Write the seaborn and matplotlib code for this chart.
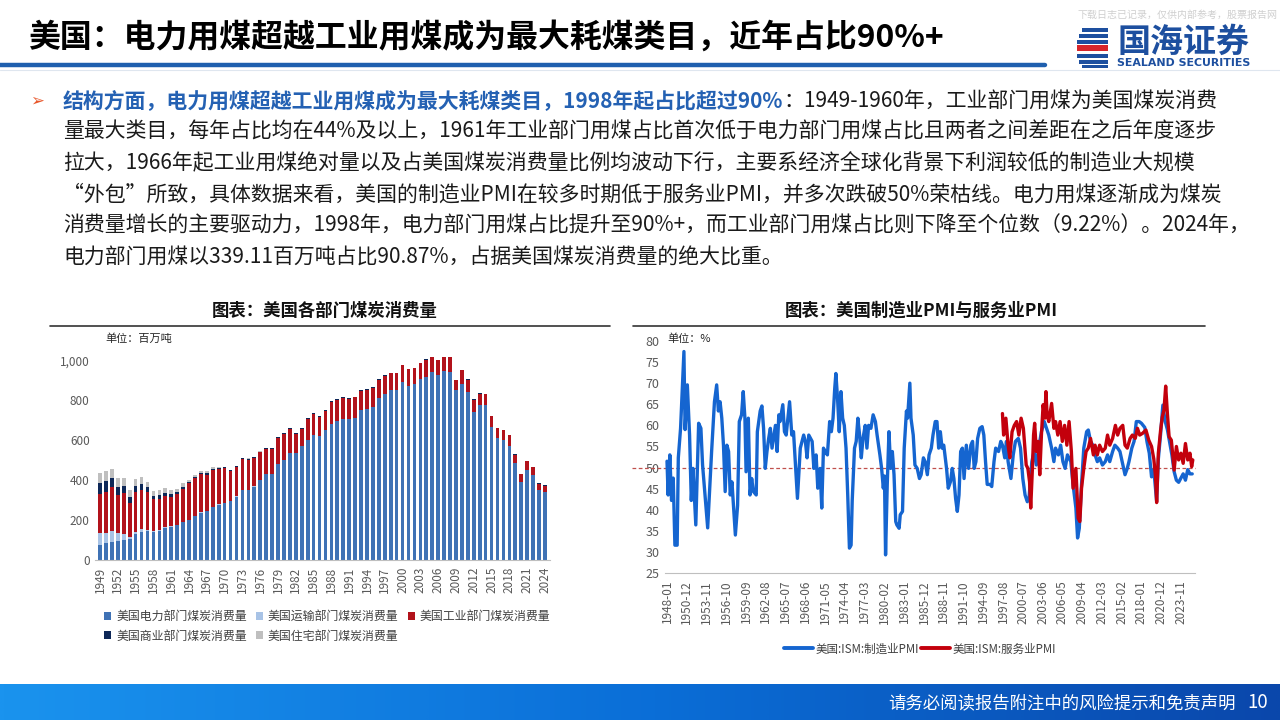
import numpy as np
import pandas as pd
import matplotlib
matplotlib.use("Agg")
import matplotlib.pyplot as plt
import matplotlib.dates as mdates
from matplotlib.patches import Rectangle, Patch
from matplotlib.lines import Line2D
from matplotlib.colors import LinearSegmentedColormap
import seaborn as sns

# ---------------- data: coal consumption by sector (million tonnes) ----------------
years = list(range(1949, 2025))

electric = [75, 84, 92, 97, 100, 107, 129, 141, 147, 141,
            147, 162, 167, 176, 191, 201, 222, 238, 246, 264,
            278, 284, 294, 318, 351, 351, 368, 402, 432, 432,
            480, 502, 535, 535, 569, 602, 627, 619, 649, 683,
            696, 706, 706, 714, 753, 756, 766, 813, 833, 850,
            853, 893, 873, 882, 907, 917, 940, 927, 945, 942,
            850, 883, 843, 743, 776, 775, 666, 611, 602, 572,
            485, 393, 452, 427, 351, 339]
transport = [62, 53, 54, 37, 30, 10, 12, 13, 4, 3,
             2, 2, 1, 1, 1, 1, 1, 1, 0.5, 0.5,
             0.5, 0.5, 0.5, 0.5, 0.5, 0.5, 0.5, 0.5, 0, 0,
             0, 0, 0, 0, 0, 0, 0, 0, 0, 0,
             0, 0, 0, 0, 0, 0, 0, 0, 0, 0,
             0, 0, 0, 0, 0, 0, 0, 0, 0, 0,
             0, 0, 0, 0, 0, 0, 0, 0, 0, 0,
             0, 0, 0, 0, 0, 0]
industrial = [194, 203, 222, 192, 208, 171, 199, 197, 190, 164,
              157, 159, 150, 154, 166, 183, 187, 193, 179, 188,
              177, 176, 151, 147, 154, 151, 141, 137, 125, 125,
              131, 129, 121, 96, 89, 107, 104, 99, 99, 110,
              107, 105, 102, 101, 95, 97, 97, 90, 90, 85,
              83, 83, 83, 78, 79, 86, 76, 73, 71, 74,
              50, 68, 61, 60, 58, 55, 54, 48, 48, 53,
              43, 37, 43, 39, 32, 34]
commercial = [57, 58, 45, 42, 35, 30, 33, 30, 25, 15,
              19, 15, 13, 10, 10, 6, 8, 6, 10, 6,
              7, 5, 5, 5, 5, 5, 5, 4, 4, 4,
              4, 4, 4, 4, 4, 4, 4, 4, 4, 4,
              4, 4, 3, 3, 3, 3, 3, 3, 3, 3,
              3, 3, 3, 3, 3, 3, 3, 3, 3, 3,
              2, 2, 2, 2, 2, 2, 2, 2, 2, 2,
              2, 1, 1, 1, 1, 1]
residential = [47, 50, 45, 45, 40, 33, 32, 36, 25, 23,
               26, 23, 20, 17, 20, 10, 10, 10, 10, 7,
               3, 2, 2, 2, 2, 2, 2, 1, 1, 1,
               1, 1, 1, 1, 1, 1, 1, 1, 1, 1,
               1, 1, 0.5, 0.5, 0.5, 0.5, 0.5, 0.5, 0.5, 0.5,
               0.5, 0.5, 0.5, 0.5, 0.5, 0.5, 0.5, 0.5, 0.5, 0.5,
               0.2, 0.2, 0.2, 0.2, 0.2, 0.2, 0.2, 0.2, 0.2, 0.2,
               0.2, 0.2, 0.2, 0.2, 0.2, 0.2]
sector_names = ["美国电力部门煤炭消费量", "美国运输部门煤炭消费量", "美国工业部门煤炭消费量",
                "美国商业部门煤炭消费量", "美国住宅部门煤炭消费量"]
coal_ticks = [0, 200, 400, 600, 800, 1000]
coal_tick_labels = ["0", "200", "400", "600", "800", "1,000"]

# ---------------- data: ISM PMI (%) ----------------
mfg_pmi = [("1948-01", 51.5), ("1948-03", 43.5), ("1948-06", 53.0), ("1948-09", 42.2), ("1948-12", 47.5),
           ("1949-03", 31.6), ("1949-07", 31.6), ("1949-09", 52.3), ("1950-01", 59.3), ("1950-07", 77.5),
           ("1950-09", 59.0), ("1951-01", 69.6), ("1951-05", 57.7), ("1951-08", 42.2), ("1951-11", 49.8),
           ("1952-04", 36.4), ("1952-09", 60.5), ("1953-01", 59.3), ("1953-04", 50.6), ("1954-01", 35.7),
           ("1954-08", 53.8), ("1955-01", 65.6), ("1955-05", 69.6), ("1955-08", 63.4), ("1955-11", 65.6),
           ("1956-02", 61.7), ("1956-05", 55.3), ("1956-08", 44.3), ("1956-11", 55.3), ("1957-02", 53.8),
           ("1957-05", 43.5), ("1957-08", 46.6), ("1958-02", 34.0), ("1958-06", 41.0), ("1958-09", 60.9),
           ("1959-01", 62.5), ("1959-04", 68.0), ("1959-07", 61.7), ("1959-09", 49.0), ("1960-01", 61.7),
           ("1960-04", 43.5), ("1960-07", 47.4), ("1960-10", 44.3), ("1961-03", 43.5), ("1961-05", 58.5),
           ("1961-10", 63.4), ("1962-01", 64.6), ("1962-04", 59.3), ("1962-07", 49.8), ("1962-10", 53.8),
           ("1963-01", 56.9), ("1963-04", 59.3), ("1963-07", 54.6), ("1964-01", 60.0), ("1964-04", 53.8),
           ("1964-07", 62.5), ("1964-09", 60.9), ("1965-02", 64.9), ("1965-05", 58.5), ("1965-08", 57.7),
           ("1966-02", 65.6), ("1966-06", 57.7), ("1966-09", 58.5), ("1967-04", 42.7), ("1967-09", 54.6),
           ("1968-03", 57.7), ("1968-06", 56.2), ("1968-09", 52.3), ("1968-12", 57.7), ("1969-06", 56.2),
           ("1969-09", 49.8), ("1970-01", 53.0), ("1970-04", 45.1), ("1970-08", 49.8), ("1970-11", 40.4),
           ("1971-02", 54.6), ("1971-05", 53.8), ("1971-09", 53.0), ("1972-01", 60.9), ("1972-04", 58.5),
           ("1972-07", 61.7), ("1972-10", 68.8), ("1972-12", 72.3), ("1973-03", 66.4), ("1973-06", 58.5),
           ("1973-09", 68.0), ("1973-12", 61.7), ("1974-03", 60.0), ("1974-06", 54.6), ("1974-09", 43.5),
           ("1974-12", 30.9), ("1975-03", 31.6), ("1975-05", 42.2), ("1975-09", 54.6), ("1975-12", 56.2),
           ("1976-03", 61.7), ("1976-06", 57.7), ("1976-09", 52.3), ("1976-12", 56.9), ("1977-04", 60.0),
           ("1977-07", 54.6), ("1977-10", 60.0), ("1978-02", 59.3), ("1978-06", 62.5), ("1978-10", 60.9),
           ("1979-01", 57.7), ("1979-06", 53.0), ("1979-09", 49.8), ("1979-12", 45.1), ("1980-02", 48.0),
           ("1980-04", 29.3), ("1980-07", 46.0), ("1980-10", 58.5), ("1981-01", 49.8), ("1981-04", 53.8),
           ("1981-07", 48.3), ("1981-10", 37.2), ("1981-12", 36.4), ("1982-04", 35.6), ("1982-06", 38.8),
           ("1982-10", 39.6), ("1983-01", 54.6), ("1983-05", 63.4), ("1983-07", 61.7), ("1983-11", 70.0),
           ("1984-01", 61.7), ("1984-05", 57.7), ("1984-08", 50.6), ("1984-12", 49.8), ("1985-04", 47.4),
           ("1985-07", 48.3), ("1985-11", 52.3), ("1986-02", 51.4), ("1986-06", 48.3), ("1986-09", 53.0),
           ("1987-01", 54.6), ("1987-04", 57.7), ("1987-08", 60.9), ("1987-11", 60.9), ("1988-02", 54.6),
           ("1988-05", 58.5), ("1988-08", 54.6), ("1988-11", 55.3), ("1989-04", 49.8), ("1989-07", 45.1),
           ("1989-11", 46.7), ("1990-02", 49.8), ("1990-05", 47.4), ("1990-08", 42.7), ("1990-11", 39.6),
           ("1991-02", 43.5), ("1991-05", 53.8), ("1991-08", 54.6), ("1991-11", 47.4), ("1992-03", 55.3),
           ("1992-07", 49.8), ("1992-11", 55.3), ("1993-02", 56.2), ("1993-05", 49.8), ("1993-08", 51.4),
           ("1993-11", 56.9), ("1994-03", 59.3), ("1994-07", 59.7), ("1994-10", 57.7), ("1995-01", 51.4),
           ("1995-04", 46.0), ("1995-09", 46.0), ("1995-12", 45.5), ("1996-04", 51.4), ("1996-07", 54.6),
           ("1996-12", 53.8), ("1997-04", 56.2), ("1997-07", 55.3), ("1997-11", 52.3), ("1998-02", 56.2),
           ("1998-05", 51.4), ("1998-10", 47.4), ("1999-02", 53.0), ("1999-06", 56.2), ("1999-11", 56.9),
           ("2000-03", 54.6), ("2000-07", 47.4), ("2000-11", 43.5), ("2001-03", 41.9), ("2001-06", 42.7),
           ("2001-11", 51.4), ("2002-03", 53.8), ("2002-07", 50.6), ("2002-12", 55.3), ("2003-04", 58.5),
           ("2003-09", 60.9), ("2004-01", 59.3), ("2004-05", 57.7), ("2004-10", 54.6), ("2005-02", 51.4),
           ("2005-05", 54.6), ("2005-10", 53.0), ("2006-02", 55.3), ("2006-06", 51.4), ("2006-10", 49.8),
           ("2007-02", 53.0), ("2007-08", 51.4), ("2007-12", 46.0), ("2008-05", 40.4), ("2008-08", 33.3),
           ("2008-11", 35.6), ("2009-03", 46.0), ("2009-07", 54.6), ("2009-12", 58.5), ("2010-03", 58.9),
           ("2010-07", 56.2), ("2010-11", 55.3), ("2011-03", 53.0), ("2011-07", 51.4), ("2011-11", 52.3),
           ("2012-04", 50.6), ("2012-09", 51.4), ("2013-01", 53.0), ("2013-05", 51.4), ("2013-10", 53.8),
           ("2014-02", 55.3), ("2014-07", 54.6), ("2014-11", 53.8), ("2015-03", 51.4), ("2015-08", 48.3),
           ("2015-12", 49.8), ("2016-03", 51.4), ("2016-08", 54.6), ("2016-12", 56.2), ("2017-04", 60.9),
           ("2017-09", 60.9), ("2018-01", 60.5), ("2018-07", 59.5), ("2018-11", 56.0), ("2019-03", 53.4),
           ("2019-07", 47.8), ("2019-11", 49.4), ("2020-04", 42.0), ("2020-07", 52.0), ("2020-11", 58.0),
           ("2021-03", 64.8), ("2021-07", 61.0), ("2021-11", 59.0), ("2022-03", 56.0), ("2022-07", 53.0),
           ("2022-11", 49.0), ("2023-03", 47.0), ("2023-07", 46.5), ("2023-11", 47.5), ("2024-03", 48.5),
           ("2024-07", 47.0), ("2024-11", 49.5), ("2025-03", 48.5), ("2025-07", 48.5)]

svc_pmi = [("1997-07", 62.8), ("1997-09", 57.7), ("1998-01", 61.7), ("1998-05", 55.3), ("1998-08", 52.3),
           ("1998-12", 58.5), ("1999-04", 60.0), ("1999-08", 60.9), ("1999-12", 57.7), ("2000-04", 61.7),
           ("2000-08", 59.3), ("2001-01", 50.6), ("2001-04", 49.8), ("2001-07", 46.6), ("2001-09", 40.4),
           ("2001-12", 49.8), ("2002-02", 57.7), ("2002-04", 60.5), ("2002-07", 53.8), ("2002-10", 56.2),
           ("2003-01", 48.3), ("2003-04", 57.7), ("2003-07", 64.9), ("2003-10", 61.7), ("2003-12", 68.0),
           ("2004-02", 62.5), ("2004-05", 60.9), ("2004-10", 65.2), ("2005-02", 59.3), ("2005-05", 60.9),
           ("2005-09", 57.7), ("2006-01", 60.9), ("2006-05", 56.2), ("2006-09", 60.0), ("2007-01", 55.3),
           ("2007-05", 60.9), ("2007-09", 53.8), ("2007-12", 45.1), ("2008-05", 49.8), ("2008-09", 38.0),
           ("2008-12", 37.2), ("2009-03", 45.1), ("2009-07", 49.8), ("2009-11", 53.8), ("2010-03", 54.6),
           ("2010-07", 56.9), ("2010-12", 53.0), ("2011-03", 55.3), ("2011-07", 53.0), ("2011-11", 55.3),
           ("2012-04", 53.8), ("2012-09", 54.6), ("2013-01", 57.7), ("2013-05", 55.3), ("2013-10", 56.9),
           ("2014-03", 60.0), ("2014-07", 57.7), ("2014-11", 59.3), ("2015-04", 60.0), ("2015-08", 55.3),
           ("2015-12", 54.6), ("2016-05", 56.9), ("2016-09", 57.7), ("2017-02", 56.9), ("2017-06", 59.3),
           ("2017-10", 57.7), ("2018-03", 58.1), ("2018-09", 58.9), ("2019-02", 56.5), ("2019-07", 55.0),
           ("2019-11", 52.0), ("2020-02", 47.8), ("2020-04", 41.7), ("2020-07", 53.4), ("2020-11", 58.9),
           ("2021-02", 62.0), ("2021-05", 63.6), ("2021-08", 69.3), ("2021-11", 62.8), ("2022-02", 57.3),
           ("2022-06", 56.5), ("2022-11", 49.4), ("2023-03", 55.0), ("2023-07", 51.8), ("2023-11", 53.4),
           ("2024-03", 51.0), ("2024-07", 55.7), ("2024-11", 51.8), ("2025-03", 53.4), ("2025-06", 50.2),
           ("2025-08", 51.8)]

pmi_tick_labels = ["1948-01", "1950-12", "1953-11", "1956-10", "1959-09", "1962-08", "1965-07",
                   "1968-06", "1971-05", "1974-04", "1977-03", "1980-02", "1983-01", "1985-12",
                   "1988-11", "1991-10", "1994-09", "1997-08", "2000-07", "2003-06", "2006-05",
                   "2009-04", "2012-03", "2015-02", "2018-01", "2020-12", "2023-11"]
pmi_yticks = [25, 30, 35, 40, 45, 50, 55, 60, 65, 70, 75, 80]
pmi_names = ["美国:ISM:制造业PMI", "美国:ISM:服务业PMI"]

# ---------------- texts ----------------
title = "美国：电力用煤超越工业用煤成为最大耗煤类目，近年占比90%+"
body_lead = "结构方面，电力用煤超越工业用煤成为最大耗煤类目，1998年起占比超过90%"
body_lines = [
    "：1949-1960年，工业部门用煤为美国煤炭消费",
    "量最大类目，每年占比均在44%及以上，1961年工业部门用煤占比首次低于电力部门用煤占比且两者之间差距在之后年度逐步",
    "拉大，1966年起工业用煤绝对量以及占美国煤炭消费量比例均波动下行，主要系经济全球化背景下利润较低的制造业大规模",
    "“外包”所致，具体数据来看，美国的制造业PMI在较多时期低于服务业PMI，并多次跌破50%荣枯线。电力用煤逐渐成为煤炭",
    "消费量增长的主要驱动力，1998年，电力部门用煤占比提升至90%+，而工业部门用煤占比则下降至个位数（9.22%）。2024年，",
    "电力部门用煤以339.11百万吨占比90.87%，占据美国煤炭消费量的绝大比重。",
]

# ---------------- style ----------------
sns.set_theme(style="white")
plt.rcParams['font.family'] = ['Noto Sans CJK SC', 'DejaVu Sans']
plt.rcParams['axes.unicode_minus'] = False

W, H = 1280, 720
fig = plt.figure(figsize=(12.8, 7.2), dpi=100, facecolor="white")


def fx(x):
    return x / W


def fy(y):
    return 1 - y / H


def add_axes_px(x0, y0, x1, y1, **kw):
    return fig.add_axes([fx(x0), fy(y1), (x1 - x0) / W, (y1 - y0) / H], **kw)


GRAY_TXT = "#595959"
C_ELEC, C_TRANS, C_IND, C_COM, C_RES = "#3f72b5", "#a8c3e6", "#b2121b", "#0d2757", "#bfbfbf"
C_MFG, C_SVC = "#1565d0", "#c3000c"

# ---------------- left chart: stacked bars ----------------
axL = add_axes_px(95.3, 340.5, 549.7, 560)
el = np.array(electric, float)
tr = np.array(transport, float)
ind = np.array(industrial, float)
com = np.array(commercial, float)
res = np.array(residential, float)
layers = [(el + tr + ind + com + res, C_RES), (el + tr + ind + com, C_COM),
          (el + tr + ind, C_IND), (el + tr, C_TRANS), (el, C_ELEC)]
for heights, col in layers:
    sns.barplot(x=years, y=heights, order=years, color=col, saturation=1, width=0.62,
                errorbar=None, linewidth=0, ax=axL)
axL.set_xlim(-0.8, len(years) - 1 + 0.8)
axL.set_ylim(0, 1100)
axL.set_xlabel("")
axL.set_ylabel("")
axL.set_yticks(coal_ticks)
axL.set_yticklabels(coal_tick_labels)
xt = list(range(0, len(years), 3))
axL.set_xticks(xt)
axL.set_xticklabels([str(years[i]) for i in xt], rotation=90)
for s in ["top", "right", "left"]:
    axL.spines[s].set_visible(False)
axL.spines["bottom"].set_color("#bfbfbf")
axL.spines["bottom"].set_linewidth(0.8)
axL.tick_params(axis="y", length=0, labelsize=8.5, colors=GRAY_TXT, pad=4)
axL.tick_params(axis="x", length=3, width=0.7, color="#bfbfbf", labelsize=8.5, colors=GRAY_TXT, pad=2)
axL.set_facecolor("none")
axL.grid(False)

fig.text(fx(105), fy(339), "单位：百万吨", fontsize=8, color="#262626", va="center", ha="left")

leg_handles = [Patch(facecolor=C_ELEC, edgecolor="none"), Patch(facecolor=C_COM, edgecolor="none"),
               Patch(facecolor=C_TRANS, edgecolor="none"), Patch(facecolor=C_RES, edgecolor="none"),
               Patch(facecolor=C_IND, edgecolor="none")]
leg_labels = [sector_names[0], sector_names[3], sector_names[1], sector_names[4], sector_names[2]]
fig.legend(leg_handles, leg_labels, loc="upper left", bbox_to_anchor=(fx(104), fy(610)),
           bbox_transform=fig.transFigure, ncol=3, frameon=False, fontsize=8.6,
           handlelength=0.62, handleheight=0.62, handletextpad=0.4, columnspacing=0.75,
           labelspacing=0.55, borderpad=0, borderaxespad=0, labelcolor="#404040")

# ---------------- right chart: PMI lines ----------------
axR = add_axes_px(665.3, 341, 1194.5, 573)
mfg = pd.DataFrame(mfg_pmi, columns=["date", "value"])
mfg["date"] = pd.to_datetime(mfg["date"])
svc = pd.DataFrame(svc_pmi, columns=["date", "value"])
svc["date"] = pd.to_datetime(svc["date"])
axR.axhline(50, xmin=-0.063, xmax=1.0, color="#c0504d", linestyle=(0, (3, 2)), linewidth=0.9,
            clip_on=False, zorder=1)
sns.lineplot(data=mfg, x="date", y="value", color=C_MFG, linewidth=2.4, ax=axR, zorder=3)
sns.lineplot(data=svc, x="date", y="value", color=C_SVC, linewidth=2.4, ax=axR, zorder=4)
axR.set_xlim(pd.Timestamp("1947-10-01"), pd.Timestamp("2025-11-01"))
axR.set_ylim(25, 80)
axR.set_xlabel("")
axR.set_ylabel("")
axR.set_yticks(pmi_yticks)
axR.set_yticklabels([str(v) for v in pmi_yticks])
tick_dates = mdates.date2num(pd.to_datetime(pmi_tick_labels))
axR.set_xticks(tick_dates)
axR.set_xticklabels(pmi_tick_labels, rotation=90)
for s in ["top", "right", "left"]:
    axR.spines[s].set_visible(False)
axR.spines["bottom"].set_color("#bfbfbf")
axR.spines["bottom"].set_linewidth(0.8)
axR.tick_params(axis="y", length=0, labelsize=9, colors=GRAY_TXT, pad=4)
axR.tick_params(axis="x", length=3, width=0.7, color="#bfbfbf", labelsize=8.5, colors=GRAY_TXT, pad=2)
axR.set_facecolor("none")
axR.grid(False)
if axR.get_legend() is not None:
    axR.get_legend().remove()

fig.text(fx(667), fy(339), "单位：%", fontsize=8, color="#262626", va="center", ha="left")
line_handles = [Line2D([0], [0], color=C_MFG, lw=2.8), Line2D([0], [0], color=C_SVC, lw=2.8)]
fig.legend(line_handles, pmi_names, loc="center", bbox_to_anchor=(fx(920), fy(649)),
           bbox_transform=fig.transFigure, ncol=2, frameon=False, fontsize=8.3,
           handlelength=2.5, handletextpad=0.2, columnspacing=0.2, borderpad=0,
           labelcolor="#404040")

# ---------------- chart titles ----------------
fig.text(fx(325), fy(311), "图表：美国各部门煤炭消费量", fontsize=12.5, fontweight="bold",
         ha="center", va="center", color="#111111")
fig.text(fx(921), fy(311), "图表：美国制造业PMI与服务业PMI", fontsize=12.5, fontweight="bold",
         ha="center", va="center", color="#111111")
fig.add_artist(Line2D([fx(50), fx(610)], [fy(326), fy(326)], color="#333333", lw=1.2))
fig.add_artist(Line2D([fx(633), fx(1205)], [fy(326), fy(326)], color="#333333", lw=1.2))

# ---------------- header ----------------
fig.add_artist(Line2D([0, fx(1045)], [fy(65), fy(65)], color="#1f5fae", lw=3.2))
fig.add_artist(Line2D([0, 1], [fy(69.5), fy(69.5)], color="#dfe6ef", lw=0.8))
t_title = fig.text(fx(28), fy(38), title, fontsize=23, fontweight="bold", ha="left", va="center",
                   color="#000000")
fig.text(fx(1278), fy(15), "下载日志已记录，仅供内部参考，股票报告网", fontsize=7.2, color="#cfcfcf",
         ha="right", va="center")
# logo
logo_blue, logo_red = "#1d4f9f", "#d7262b"
for (yy, hh, x0, ww) in [(28, 4, 1082, 26), (34, 4, 1079, 29), (40, 4, 1077, 31),
                         (54, 4, 1077, 31), (60, 4, 1079, 29), (65, 3, 1082, 26)]:
    fig.add_artist(Rectangle((fx(x0), fy(yy + hh)), ww / W, hh / H, color=logo_blue, lw=0))
fig.add_artist(Rectangle((fx(1077), fy(51)), 31 / W, 6 / H, color=logo_red, lw=0))
t_logo = fig.text(fx(1117), fy(42), "国海证券", fontsize=21, fontweight="bold", color=logo_blue,
                  ha="left", va="center")
t_logo2 = fig.text(fx(1117), fy(63), "SEALAND SECURITIES", fontsize=7.8, fontweight="bold",
                   color=logo_blue, ha="left", va="center", family=["DejaVu Sans"])

# ---------------- body paragraph ----------------
fig.text(fx(30), fy(101), "➢", fontsize=12, color="#e8562a", ha="left", va="center",
         family=["DejaVu Sans"])
line_y = [101, 132, 163, 195, 226, 258]
fig.canvas.draw()
rend = fig.canvas.get_renderer()

# fit title / logo widths
w_t = t_title.get_window_extent(renderer=rend).width
t_title.set_fontsize(23 * 917 / w_t)
w_l = t_logo.get_window_extent(renderer=rend).width
t_logo.set_fontsize(21 * 132 / w_l)
w_l2 = t_logo2.get_window_extent(renderer=rend).width
t_logo2.set_fontsize(7.8 * 133 / w_l2)

probe = fig.text(fx(63), fy(132), body_lines[1], fontsize=16, ha="left", va="center")
w_probe = probe.get_window_extent(renderer=rend).width
probe.remove()
fs_body = 16 * 1155 / w_probe

t_lead = fig.text(fx(63), fy(line_y[0]), body_lead, fontsize=fs_body, fontweight="bold",
                  color="#2461b3", ha="left", va="center")
w_lead = t_lead.get_window_extent(renderer=rend).width
fig.text(fx(63 + w_lead), fy(line_y[0]), body_lines[0], fontsize=fs_body, color="#1a1a1a",
         ha="left", va="center")
for k in range(1, len(body_lines)):
    fig.text(fx(63), fy(line_y[k]), body_lines[k], fontsize=fs_body, color="#1a1a1a",
             ha="left", va="center")

# ---------------- footer ----------------
axF = fig.add_axes([0, 0, 1, 36 / H])
cmap = LinearSegmentedColormap.from_list("foot", ["#1a93ee", "#0b6fd8", "#0a47ab"])
axF.imshow(np.linspace(0, 1, 512).reshape(1, -1), aspect="auto", cmap=cmap,
           extent=[0, 1, 0, 1])
axF.set_axis_off()
fig.text(fx(1236), fy(703), "请务必阅读报告附注中的风险提示和免责声明", fontsize=12.5, color="white",
         ha="right", va="center")
fig.text(fx(1258), fy(703), "10", fontsize=13.5, color="white", ha="center", va="center")

fig.savefig("out.png", dpi=100, facecolor="white")
